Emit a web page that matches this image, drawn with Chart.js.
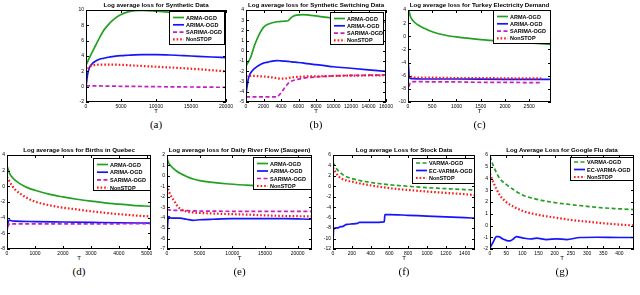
<!DOCTYPE html>
<html lang="en">
<head>
<meta charset="UTF-8">
<title>Log average loss</title>
<script src="https://cdn.jsdelivr.net/npm/chart.js"></script>
<style>
  body { margin: 0; width: 640px; height: 295px; position: relative; overflow: hidden; background: #fff; font-family: 'Liberation Sans', Arial, sans-serif; }
  canvas { position: absolute; }
  .ttl { position: absolute; font-weight: bold; font-size: 6.2px; text-align: center; white-space: nowrap; line-height: 1; }
  .sub { position: absolute; font-family: 'Liberation Serif', serif; font-size: 11px; text-align: center; line-height: 1; }
</style>
</head>
<body>
<script>
// (a) Synthetic Data
const aXTicks = [0, 5000, 10000, 15000, 20000];
const aYTicks = [-2, 0, 2, 4, 6, 8, 10];
const aT = [0, 250, 500, 1000, 1500, 2000, 2500, 3000, 4000, 5000, 6000, 7000, 8000, 10000, 12000, 14000, 16000, 18000, 20000];
const aArma = [2.8, 3.3, 3.8, 4.7, 5.6, 6.5, 7.3, 7.9, 8.8, 9.4, 9.75, 9.92, 9.95, 9.85, 9.7, 9.55, 9.4, 9.25, 9.1];
const aArima = [0.0, 1.7, 2.5, 3.1, 3.4, 3.6, 3.7, 3.8, 3.95, 4.05, 4.1, 4.15, 4.17, 4.17, 4.13, 4.05, 3.95, 3.87, 3.8];
const aSarima = [0.15, 0.1, 0.1, 0.1, 0.1, 0.1, 0.08, 0.08, 0.07, 0.05, 0.04, 0.03, 0.02, 0.0, -0.02, -0.04, -0.05, -0.07, -0.08];
const aNonstop = [1.9, 2.3, 2.6, 2.8, 2.85, 2.87, 2.88, 2.88, 2.87, 2.85, 2.8, 2.75, 2.7, 2.6, 2.5, 2.4, 2.28, 2.14, 2.0];

// (b) Synthetic Switching Data
const bXTicks = [0, 2000, 4000, 6000, 8000, 10000, 12000, 14000, 16000];
const bYTicks = [-5, -4, -3, -2, -1, 0, 1, 2, 3, 4];
const bT = [0, 250, 500, 1000, 1500, 2000, 2500, 3000, 3500, 4000, 4500, 4800, 5100, 5400, 5800, 6500, 7000, 8000, 9000, 10000, 12000, 14000, 16000];
const bArma = [-1.5, -1.1, -0.7, 0.6, 1.6, 2.3, 2.6, 2.75, 2.85, 2.88, 2.92, 2.95, 3.2, 3.4, 3.5, 3.55, 3.52, 3.42, 3.3, 3.2, 3.0, 2.9, 2.8];
const bArima = [-4.2, -2.8, -2.2, -1.7, -1.4, -1.2, -1.1, -1.0, -0.95, -0.97, -1.0, -1.03, -1.06, -1.09, -1.12, -1.18, -1.25, -1.35, -1.45, -1.55, -1.7, -1.85, -2.0];
const bSarima = [-4.5, -4.5, -4.5, -4.5, -4.5, -4.5, -4.5, -4.5, -4.5, -4.1, -3.5, -3.2, -3.0, -2.9, -2.8, -2.68, -2.62, -2.55, -2.5, -2.45, -2.4, -2.38, -2.35];
const bNonstop = [-2.5, -2.45, -2.45, -2.45, -2.48, -2.5, -2.55, -2.6, -2.66, -2.72, -2.7, -2.66, -2.62, -2.58, -2.55, -2.52, -2.5, -2.5, -2.47, -2.45, -2.42, -2.4, -2.38];

// (c) Turkey Electricity Demand
const cXTicks = [0, 500, 1000, 1500, 2000, 2500];
const cYTicks = [-10, -8, -6, -4, -2, 0, 2, 4];
const cArmaT = [0, 20, 50, 100, 200, 300, 500, 750, 1000, 1500, 2000, 2500, 2950];
const cArma = [4.0, 3.8, 3.0, 2.4, 1.75, 1.35, 0.7, 0.2, -0.1, -0.5, -0.78, -1.02, -1.25];
const cArimaT = [0, 8, 25, 50, 100, 300, 1000, 2000, 2950];
const cArima = [-10, -4.2, -6.2, -6.4, -6.45, -6.5, -6.5, -6.55, -6.55];
const cSarimaT = [15, 40, 80, 150, 300, 500, 1000, 1500, 2000, 2500, 2750];
const cSarima = [-7.7, -7.2, -6.95, -6.9, -6.9, -6.95, -6.95, -7.0, -7.0, -7.05, -7.05];
const cNonstopT = [10, 30, 60, 100, 200, 500, 1000, 1500, 2000, 2500, 2750];
const cNonstop = [-6.0, -5.8, -6.1, -6.2, -6.3, -6.3, -6.35, -6.35, -6.4, -6.4, -6.4];

// (d) Births in Quebec
const dXTicks = [0, 1000, 2000, 3000, 4000, 5000];
const dYTicks = [-8, -6, -4, -2, 0, 2, 4];
const dT = [0, 50, 100, 200, 300, 500, 750, 1000, 1500, 2000, 2500, 3000, 3500, 4000, 4500, 5150];
const dArma = [2.6, 2.1, 1.6, 1.1, 0.75, 0.25, -0.2, -0.5, -1.0, -1.35, -1.65, -1.9, -2.1, -2.28, -2.42, -2.55];
const dNonstop = [1.2, 0.9, 0.55, 0.0, -0.45, -1.0, -1.55, -1.95, -2.4, -2.72, -2.95, -3.18, -3.38, -3.55, -3.7, -3.85];
const dArimaT = [0, 20, 60, 100, 150, 300, 1000, 2000, 3000, 4000, 5150];
const dArima = [-6.0, -5.0, -4.4, -4.3, -4.4, -4.45, -4.5, -4.55, -4.6, -4.65, -4.7];
const dSarimaT = [20, 60, 120, 200, 500, 1000, 2000, 3000, 4000, 5150];
const dSarima = [-5.2, -4.9, -4.75, -4.8, -4.8, -4.8, -4.8, -4.8, -4.78, -4.75];

// (e) Daily River Flow (Saugeen)
const eXTicks = [0, 5000, 10000, 15000, 20000];
const eYTicks = [-7, -6, -5, -4, -3, -2, -1, 0, 1, 2];
const eT = [0, 100, 300, 600, 1000, 1500, 2000, 3000, 4000, 5000, 7000, 9000, 12000, 15000, 18000, 22200];
const eArma = [1.7, 1.5, 1.2, 0.95, 0.7, 0.45, 0.25, -0.05, -0.3, -0.45, -0.62, -0.75, -0.88, -0.98, -1.07, -1.18];
const eNonstop = [-0.9, -1.1, -1.5, -1.9, -2.3, -2.8, -3.15, -3.4, -3.5, -3.55, -3.6, -3.65, -3.7, -3.78, -3.84, -3.88];
const eArimaT = [0, 100, 250, 500, 1000, 2000, 3000, 4000, 5000, 7000, 10000, 14000, 18000, 22200];
const eArima = [-6.2, -4.6, -3.9, -4.0, -4.05, -4.05, -4.15, -4.25, -4.2, -4.15, -4.1, -4.1, -4.1, -4.15];
const eSarimaT = [0, 300, 1000, 2000, 4000, 8000, 12000, 16000, 22200];
const eSarima = [-3.2, -3.25, -3.3, -3.3, -3.35, -3.38, -3.4, -3.4, -3.4];

// (f) Stock Data
const fXTicks = [0, 200, 400, 600, 800, 1000, 1200, 1400];
const fYTicks = [-12, -10, -8, -6, -4, -2, 0, 2, 4, 6];
const fT = [0, 20, 50, 100, 150, 200, 300, 400, 500, 600, 800, 1000, 1200, 1400, 1510];
const fVarma = [4.6, 3.9, 3.1, 2.3, 1.8, 1.5, 1.05, 0.75, 0.5, 0.3, 0.0, -0.25, -0.45, -0.62, -0.72];
const fNonstop = [3.6, 2.9, 2.1, 1.4, 1.1, 0.9, 0.5, 0.18, -0.1, -0.35, -0.7, -1.0, -1.25, -1.5, -1.7];
const fEcT = [0, 5, 20, 60, 80, 100, 130, 150, 200, 260, 280, 400, 545, 552, 600, 800, 1000, 1200, 1400, 1510];
const fEc = [-11, -8.5, -8.0, -7.9, -7.7, -7.7, -7.4, -7.3, -7.2, -7.1, -6.9, -6.9, -6.8, -5.4, -5.4, -5.55, -5.7, -5.85, -6.0, -6.1];

// (g) Google Flu data
const gXTicks = [0, 50, 100, 150, 200, 250, 300, 350, 400];
const gYTicks = [-2, -1, 0, 1, 2, 3, 4, 5, 6];
const gT = [0, 10, 20, 30, 50, 70, 100, 150, 200, 250, 300, 350, 400, 445];
const gVarma = [5.9, 5.1, 4.5, 4.0, 3.5, 3.1, 2.6, 2.2, 1.95, 1.78, 1.63, 1.5, 1.42, 1.35];
const gNonstop = [4.4, 3.7, 3.1, 2.6, 2.0, 1.65, 1.25, 0.9, 0.68, 0.47, 0.33, 0.19, 0.08, 0.0];
const gEcT = [0, 10, 20, 26, 40, 55, 62, 72, 82, 100, 124, 144, 175, 206, 237, 278, 330, 400, 445];
const gEc = [-1.9, -1.4, -0.95, -0.95, -1.15, -1.3, -1.3, -1.15, -0.95, -1.05, -1.15, -1.08, -1.2, -1.13, -1.2, -1.02, -1.0, -1.02, -1.02];

const GREEN = '#22a022', BLUE = '#1414ff', MAGENTA = '#c41ec4', RED = '#ff1a1a';

Chart.defaults.font.family = "'Liberation Sans', Arial, sans-serif";

function series(label, xs, ys, color, kind) {
    const ds = {
        label: label,
        data: xs.map((x, i) => ({ x: x, y: ys[i] })),
        borderColor: color,
        borderWidth: 1.7,
        pointRadius: 0,
        fill: false,
        cubicInterpolationMode: 'monotone'
    };
    if (kind === 'dash') ds.borderDash = [4, 2.5];
    if (kind === 'dot') { ds.borderDash = [1.6, 2]; ds.borderWidth = 2.2; }
    return ds;
}

// box frame with inward ticks on all four sides
const frameTicks = {
    id: 'frameTicks',
    afterDatasetsDraw(chart) {
        const { ctx, chartArea: a, scales } = chart;
        const seg = (x1, y1, x2, y2) => { ctx.beginPath(); ctx.moveTo(x1, y1); ctx.lineTo(x2, y2); ctx.stroke(); };
        ctx.save();
        ctx.strokeStyle = '#000';
        ctx.lineWidth = 1;
        ctx.setLineDash([]);
        scales.x.ticks.forEach(t => {
            const p = Math.round(scales.x.getPixelForValue(t.value)) + 0.5;
            seg(p, a.bottom, p, a.bottom - 3);
            seg(p, a.top, p, a.top + 3);
        });
        scales.y.ticks.forEach(t => {
            const p = Math.round(scales.y.getPixelForValue(t.value)) + 0.5;
            seg(a.left, p, a.left + 3, p);
            seg(a.right, p, a.right - 3, p);
        });
        ctx.strokeRect(a.left + 0.5, a.top + 0.5, a.width - 1, a.height - 1);
        ctx.restore();
    }
};

// matplotlib style legend box in the upper right corner
const boxLegend = {
    id: 'boxLegend',
    afterDraw(chart, args, o) {
        const { ctx, chartArea: a } = chart;
        const x2 = a.right - o.right, x1 = Math.round(x2 - o.w), y1 = Math.round(a.top + o.top);
        ctx.save();
        ctx.fillStyle = '#fff';
        ctx.fillRect(x1, y1, o.w, o.h);
        ctx.strokeStyle = '#000';
        ctx.lineWidth = 1;
        ctx.strokeRect(x1 + 0.5, y1 + 0.5, o.w, o.h);
        ctx.font = 'bold 5.5px "Liberation Sans", Arial, sans-serif';
        ctx.textBaseline = 'middle';
        chart.data.datasets.forEach((ds, i) => {
            const y = y1 + o.first + i * o.row;
            ctx.strokeStyle = ds.borderColor;
            ctx.lineWidth = ds.borderWidth;
            ctx.setLineDash(ds.borderDash || []);
            ctx.beginPath(); ctx.moveTo(x1 + 4, y); ctx.lineTo(x1 + 15, y); ctx.stroke();
            ctx.fillStyle = '#000';
            ctx.fillText(ds.label, x1 + 17, y + 0.5);
        });
        ctx.restore();
    }
};

function makePanel(p) {
    const [L, T, R, B] = p.box;
    const wy = 14, padTop = 4, padRight = 10, hx = 13;

    const cv = document.createElement('canvas');
    cv.width = wy + (R - L) + padRight;
    cv.height = padTop + (B - T) + hx;
    cv.style.left = (L - wy) + 'px';
    cv.style.top = (T - padTop) + 'px';
    document.body.appendChild(cv);

    const ttl = document.createElement('div');
    ttl.className = 'ttl';
    ttl.textContent = p.title;
    ttl.style.left = L + 'px';
    ttl.style.width = (R - L) + 'px';
    ttl.style.top = (T - 7.5) + 'px';
    document.body.appendChild(ttl);

    const sub = document.createElement('div');
    sub.className = 'sub';
    sub.textContent = p.sub;
    sub.style.left = L + 'px';
    sub.style.width = (R - L) + 'px';
    sub.style.top = (B + 17) + 'px';
    document.body.appendChild(sub);

    p.data.forEach((ds, i) => { ds.order = p.data.length - i; });

    new Chart(cv, {
        type: 'line',
        data: { datasets: p.data },
        options: {
            responsive: false,
            animation: false,
            events: [],
            layout: { padding: { top: padTop, right: padRight, left: 0, bottom: 0 } },
            plugins: { legend: { display: false }, tooltip: { enabled: false }, boxLegend: p.legend },
            scales: {
                x: {
                    type: 'linear', min: 0, max: p.xMax,
                    afterFit: s => { s.height = hx; },
                    afterBuildTicks: s => { s.ticks = p.xTicks.map(v => ({ value: v })); },
                    grid: { display: false, drawTicks: false },
                    border: { display: false },
                    ticks: { font: { size: 5 }, color: '#000', padding: 1.5, maxRotation: 0, autoSkip: false, callback: v => String(v) },
                    title: { display: true, text: 'T', font: { size: 6 }, color: '#000', padding: 0 }
                },
                y: {
                    type: 'linear', min: p.yTicks[0], max: p.yTicks[p.yTicks.length - 1],
                    afterFit: s => { s.width = wy; },
                    afterBuildTicks: s => { s.ticks = p.yTicks.map(v => ({ value: v })); },
                    grid: { display: false, drawTicks: false },
                    border: { display: false },
                    ticks: { font: { size: 5 }, color: '#000', padding: 2, autoSkip: false, callback: v => String(v) }
                }
            }
        },
        plugins: [frameTicks, boxLegend]
    });
}

makePanel({
    title: 'Log average loss for Synthetic Data', sub: '(a)', box: [86, 9, 226, 102],
    xMax: 20000, xTicks: aXTicks, yTicks: aYTicks, legend: { w: 55, h: 33, right: 2, top: 1, first: 6.5, row: 7.3 },
    data: [
        series('ARMA-OGD', aT, aArma, GREEN),
        series('ARIMA-OGD', aT, aArima, BLUE),
        series('SARIMA-OGD', aT, aSarima, MAGENTA, 'dash'),
        series('NonSTOP', aT, aNonstop, RED, 'dot')
    ]
});

makePanel({
    title: 'Log average loss for Synthetic Switching Data', sub: '(b)', box: [246, 9, 386, 102],
    xMax: 16000, xTicks: bXTicks, yTicks: bYTicks, legend: { w: 53, h: 32, right: 3, top: 2, first: 6.5, row: 7.3 },
    data: [
        series('ARMA-OGD', bT, bArma, GREEN),
        series('ARIMA-OGD', bT, bArima, BLUE),
        series('SARIMA-OGD', bT, bSarima, MAGENTA, 'dash'),
        series('NonSTOP', bT, bNonstop, RED, 'dot')
    ]
});

makePanel({
    title: 'Log average loss for Turkey Electricity Demand', sub: '(c)', box: [408, 9, 551, 102],
    xMax: 2950, xTicks: cXTicks, yTicks: cYTicks, legend: { w: 57, h: 33, right: 1, top: 0, first: 6.5, row: 7.3 },
    data: [
        series('ARMA-OGD', cArmaT, cArma, GREEN),
        series('ARIMA-OGD', cArimaT, cArima, BLUE),
        series('SARIMA-OGD', cSarimaT, cSarima, MAGENTA, 'dash'),
        series('NonSTOP', cNonstopT, cNonstop, RED, 'dot')
    ]
});

makePanel({
    title: 'Log average loss for Births in Quebec', sub: '(d)', box: [7, 154, 151, 249],
    xMax: 5150, xTicks: dXTicks, yTicks: dYTicks, legend: { w: 57, h: 32, right: 1, top: 2.5, first: 6.5, row: 7.7 },
    data: [
        series('ARMA-OGD', dT, dArma, GREEN),
        series('ARIMA-OGD', dArimaT, dArima, BLUE),
        series('SARIMA-OGD', dSarimaT, dSarima, MAGENTA, 'dash'),
        series('NonSTOP', dT, dNonstop, RED, 'dot')
    ]
});

makePanel({
    title: 'Log average loss for Daily River Flow (Saugeen)', sub: '(e)', box: [167, 154, 312, 249],
    xMax: 22200, xTicks: eXTicks, yTicks: eYTicks, legend: { w: 58, h: 32, right: 1, top: 2, first: 6.5, row: 7.5 },
    data: [
        series('ARMA-OGD', eT, eArma, GREEN),
        series('ARIMA-OGD', eArimaT, eArima, BLUE),
        series('SARIMA-OGD', eSarimaT, eSarima, MAGENTA, 'dash'),
        series('NonSTOP', eT, eNonstop, RED, 'dot')
    ]
});

makePanel({
    title: 'Log average Loss for Stock Data', sub: '(f)', box: [333, 154, 475, 249],
    xMax: 1510, xTicks: fXTicks, yTicks: fYTicks, legend: { w: 62, h: 25, right: 1, top: 2.5, first: 5, row: 7.5 },
    data: [
        series('VARMA-OGD', fT, fVarma, GREEN, 'dash'),
        series('EC-VARMA-OGD', fEcT, fEc, BLUE),
        series('NonSTOP', fT, fNonstop, RED, 'dot')
    ]
});

makePanel({
    title: 'Log Average Loss for Google Flu data', sub: '(g)', box: [490, 154, 634, 249],
    xMax: 445, xTicks: gXTicks, yTicks: gYTicks, legend: { w: 63, h: 23, right: 1, top: 2, first: 5, row: 7.5 },
    data: [
        series('VARMA-OGD', gT, gVarma, GREEN, 'dash'),
        series('EC-VARMA-OGD', gEcT, gEc, BLUE),
        series('NonSTOP', gT, gNonstop, RED, 'dot')
    ]
});
</script>
</body>
</html>
